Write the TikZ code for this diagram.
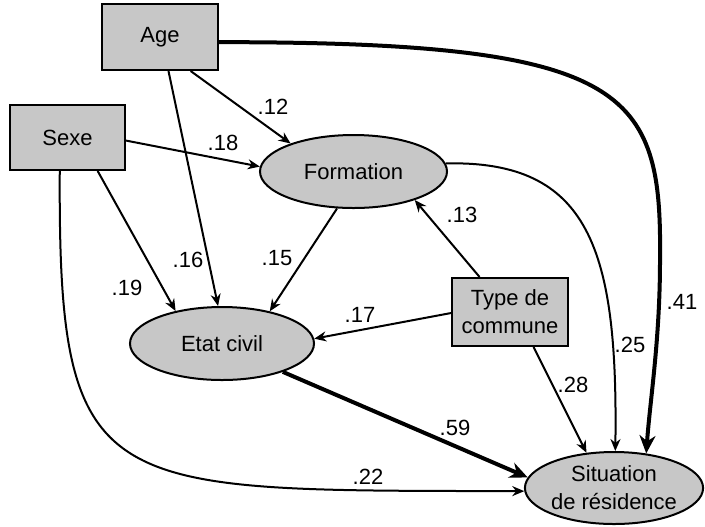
\documentclass[tikz,border=0pt]{standalone}
\usepackage{fontspec}
\setmainfont{Liberation Sans}
\usetikzlibrary{arrows.meta, shapes.geometric}

\begin{document}
\begin{tikzpicture}[x=0.5pt, y=-0.5pt,
    font=\fontsize{11}{14}\selectfont,
    obs/.style={draw, line width=1pt, fill=black!22, inner sep=0pt, align=center},
    lat/.style={draw, ellipse, line width=1pt, fill=black!22, inner sep=0pt, align=center},
    path/.style={line width=1pt, -{Stealth[length=6pt, width=5pt]}},
    strong/.style={line width=2pt, -{Stealth[length=9pt, width=8pt]}},
    coef/.style={inner sep=0pt}]
  \useasboundingbox (0,0) rectangle (705,526);

  % Observed variables
  \node[obs, minimum width=58pt, minimum height=33pt] (age) at (160,37) {Age};
  \node[obs, minimum width=57.5pt, minimum height=32.5pt] (sexe) at (67.5,137.5) {Sexe};
  \node[obs, minimum width=58pt, minimum height=34pt] (type) at (510,312) {Type de\\commune};

  % Ellipses
  \node[lat, minimum width=93.5pt, minimum height=36.5pt] (form) at (353.5,171.5) {Formation};
  \node[lat, minimum width=92pt, minimum height=36.5pt] (etat) at (222,343.5) {Etat civil};
  \node[lat, minimum width=89pt, minimum height=36pt] (sit) at (614,488) {Situation\\de résidence};

  % Paths to Formation
  \draw[path] (age.-48) -- (form.156);
  \draw[path] (sexe.-3) -- (form.177);
  \draw[path] (type.131) -- (form.-25);

  % Paths to Etat civil
  \draw[path] (age.-76) -- (etat.96);
  \draw[path] (sexe.-48) -- (etat.145);
  \draw[path] (form.-114) -- (etat.34);
  \draw[path] (type.181) -- (etat.3);

  % Paths to Situation de residence
  \draw[strong] (age.-5) .. controls (630,42) and (662,90) .. (660,260)
    .. controls (660,340) and (650,400) .. (sit.47);
  \draw[path] (form.5) .. controls (590,160) and (618,250) .. (sit.88);
  \draw[path] (type.-56) -- (sit.128);
  \draw[strong] (etat.-25) -- (sit.173);
  \draw[path] (sexe.-103) .. controls (58,500) and (100,490) .. (sit.182);

  % Coefficients
  \node[coef] (c12) at (273,107) {.12};
  \node[coef] (c18) at (223,143) {.18};
  \node[coef] (c16) at (188,260) {.16};
  \node[coef] (c15) at (277,258) {.15};
  \node[coef] (c19) at (127,288) {.19};
  \node[coef] (c17) at (360,315) {.17};
  \node[coef] (c13) at (462,215) {.13};
  \node[coef] (c25) at (630,345) {.25};
  \node[coef] (c41) at (682,302) {.41};
  \node[coef] (c28) at (573,385) {.28};
  \node[coef] (c59) at (455,428) {.59};
  \node[coef] (c22) at (368,477) {.22};
\end{tikzpicture}
\end{document}
